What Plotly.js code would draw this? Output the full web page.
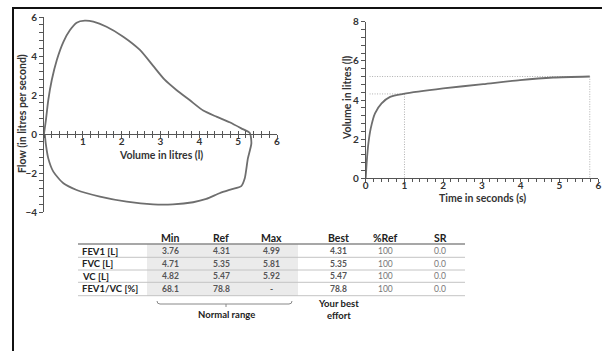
<!DOCTYPE html>
<html><head><meta charset="utf-8">
<script src="https://cdn.plot.ly/plotly-3.0.1.min.js"></script>
<style>html,body{margin:0;padding:0;background:#fff}#chart{width:602px;height:351px}</style>
</head><body><div id="chart"></div>
<script>
// ---- Data ----
// Flow-volume loop (volume in litres, flow in litres per second)
const loopVolume = [0, 0.02, 0.05, 0.11, 0.2, 0.33, 0.5, 0.67, 0.84, 1.05, 1.27, 1.61, 2.04, 2.47, 2.8, 3.1, 3.41, 3.75, 4.1, 4.44, 4.78, 5.08, 5.3,
  5.34, 5.25, 5.17, 5.08, 4.82, 4.52, 4.18, 3.84, 3.32, 2.81, 2.13, 1.44, 0.84, 0.5, 0.24, 0.11, 0.05, 0.02];
const loopFlow = [0, 0.3, 0.72, 1.74, 2.77, 3.8, 4.73, 5.33, 5.71, 5.81, 5.76, 5.5, 4.99, 4.31, 3.52, 2.8, 2.26, 1.74, 1.2, 0.89, 0.6, 0.29, 0.05,
  -0.48, -1.25, -2.27, -2.67, -2.84, -3.04, -3.33, -3.5, -3.61, -3.61, -3.47, -3.21, -2.87, -2.53, -1.93, -1.25, -0.56, 0];
// Volume-time curve
const timeSec = [0, 0.03, 0.07, 0.13, 0.24, 0.41, 0.63, 0.97, 2.0, 3.03, 3.98, 4.84, 5.78];
const volumeL = [0, 0.93, 1.79, 2.55, 3.32, 3.83, 4.16, 4.31, 4.59, 4.81, 5.02, 5.15, 5.2];
// Markers: FEV1 at 1 s, FVC at end of test
const fev1Time = 1, fev1Value = 4.31;
const fvcTime = 5.78, fvcValue = 5.2;
// Tick values
const loopXTicks = [1, 2, 3, 4, 5, 6];
const loopYTicks = [-4, -2, 0, 2, 4, 6];
const timeXTicks = [0, 1, 2, 3, 4, 5, 6];
const timeYTicks = [0, 2, 4, 6, 8];
// Table
const rowLabels = ['FEV1 [L]', 'FVC [L]', 'VC [L]', 'FEV1/VC [%]'];
const colHeaders = ['Min', 'Ref', 'Max', 'Best', '%Ref', 'SR'];
const minVals = ['3.76', '4.71', '4.82', '68.1'];
const refVals = ['4.31', '5.35', '5.47', '78.8'];
const maxVals = ['4.99', '5.81', '5.92', '-'];
const bestVals = ['4.31', '5.35', '5.47', '78.8'];
const pctRefVals = ['100', '100', '100', '100'];
const srVals = ['0.0', '0.0', '0.0', '0.0'];
const normalRangeLabel = 'Normal range';
const bestEffortLabel = 'Your best<br>effort';

// ---- Layout helpers ----
const W = 602, H = 351;
const PX = x => x / W;
const PY = y => 1 - y / H;
const FONT = 'Lato, Open Sans, sans-serif';
const axisCol = '#555';
const curveCol = '#6e6e6e';

const traces = [
  {x: loopVolume, y: loopFlow, xaxis: 'x', yaxis: 'y', mode: 'lines',
   line: {color: curveCol, width: 1.8, shape: 'spline', smoothing: 0.6}},
  {x: [], y: [], xaxis: 'x3', yaxis: 'y', mode: 'lines'},
  {x: [], y: [], xaxis: 'x5', yaxis: 'y', mode: 'lines'},
  {x: [], y: [], xaxis: 'x6', yaxis: 'y2', mode: 'lines'},
  {x: [0.1, fev1Time, fev1Time], y: [fev1Value, fev1Value, 0], xaxis: 'x2', yaxis: 'y2', mode: 'lines',
   line: {color: '#b0b0b0', width: 1, dash: '1px,1.5px'}},
  {x: [0.1, fvcTime, fvcTime], y: [fvcValue, fvcValue, 0], xaxis: 'x2', yaxis: 'y2', mode: 'lines',
   line: {color: '#b0b0b0', width: 1, dash: '1px,1.5px'}},
  {x: timeSec, y: volumeL, xaxis: 'x2', yaxis: 'y2', mode: 'lines',
   line: {color: curveCol, width: 1.8, shape: 'spline', smoothing: 0.6}}
];

const tickFont = {family: FONT, size: 10, color: '#333', weight: 700};
const titleFont = {family: FONT, size: 10.5, color: '#333', weight: 700};
const minorIn = {tickmode: 'linear', tick0: 0, dtick: 0.2, ticks: 'inside', ticklen: 3, tickcolor: axisCol, tickwidth: 1};
const minorOut = Object.assign({}, minorIn, {ticks: 'outside'});
const bare = {showgrid: false, zeroline: false, showline: false};

const layout = {
  width: W, height: H, margin: {l: 0, r: 0, t: 0, b: 0},
  paper_bgcolor: '#fff', plot_bgcolor: 'rgba(0,0,0,0)', showlegend: false,
  // left chart: axis line with inside ticks, overlay adds outside ticks, another overlay carries the labels
  xaxis: {domain: [PX(44), PX(277)], range: [0, 6], anchor: 'free', position: PY(134),
    showgrid: false, zeroline: false, showline: true, linecolor: axisCol, linewidth: 1, showticklabels: false,
    tickmode: 'array', tickvals: loopXTicks, ticks: 'inside', ticklen: 3, tickcolor: axisCol, minor: minorIn},
  xaxis3: Object.assign({overlaying: 'x', range: [0, 6], anchor: 'free', position: PY(134), showticklabels: false,
    tickmode: 'array', tickvals: loopXTicks, ticks: 'outside', ticklen: 3, tickcolor: axisCol, minor: minorOut}, bare),
  xaxis5: Object.assign({overlaying: 'x', range: [0, 6], anchor: 'free', position: PY(133.5),
    tickmode: 'array', tickvals: loopXTicks, ticks: '', tickfont: tickFont}, bare),
  yaxis: {domain: [PY(212), PY(17)], range: [-4, 6], anchor: 'x',
    showgrid: false, zeroline: false, showline: true, linecolor: axisCol, linewidth: 1,
    tickmode: 'array', tickvals: loopYTicks, ticks: 'outside', ticklen: 4, tickcolor: axisCol,
    minor: {tickmode: 'linear', tick0: 0, dtick: 0.4, ticks: 'outside', ticklen: 4, tickcolor: axisCol},
    tickfont: tickFont},
  // right chart
  xaxis2: {domain: [PX(365.7), PX(598.3)], range: [0, 6], anchor: 'y2',
    showgrid: false, zeroline: false, showline: true, linecolor: axisCol, linewidth: 1, showticklabels: false,
    tickmode: 'array', tickvals: timeXTicks, ticks: 'outside', ticklen: 3, tickcolor: axisCol, minor: minorOut},
  xaxis6: Object.assign({overlaying: 'x2', range: [0, 6], anchor: 'free', position: PY(178.3),
    tickmode: 'array', tickvals: timeXTicks, ticks: '', tickfont: tickFont}, bare),
  yaxis2: {domain: [PY(178.3), PY(21.7)], range: [0, 8], anchor: 'x2',
    showgrid: false, zeroline: false, showline: true, linecolor: axisCol, linewidth: 1,
    tickmode: 'array', tickvals: timeYTicks, ticks: 'outside', ticklen: 4, tickcolor: axisCol,
    minor: {tickmode: 'linear', tick0: 0, dtick: 0.4, ticks: 'outside', ticklen: 4, tickcolor: axisCol},
    tickfont: tickFont},
  shapes: [], annotations: []
};

// Frame
layout.shapes.push({type: 'line', xref: 'paper', yref: 'paper', x0: PX(12), x1: 1, y0: PY(8), y1: PY(8), line: {color: '#111', width: 2}});
layout.shapes.push({type: 'line', xref: 'paper', yref: 'paper', x0: PX(13), x1: PX(13), y0: PY(8), y1: 0, line: {color: '#111', width: 2}});

function ann(text, x, y, opts) {
  layout.annotations.push(Object.assign({text, xref: 'paper', yref: 'paper', x: PX(x), y: PY(y), showarrow: false,
    xanchor: 'center', yanchor: 'middle', font: {family: FONT, size: 8.5, color: '#555', weight: 700}}, opts || {}));
}

// Axis titles
ann('Volume in litres (l)', 161, 155, {font: titleFont});
ann('Flow (in litres per second)', 22, 114, {font: titleFont, textangle: -90});
ann('Time in seconds (s)', 482, 198, {font: titleFont});
ann('Volume in litres (l)', 347, 98, {font: titleFont, textangle: -90});

// Table geometry
const colX = [170, 221, 271.7, 338, 385.7, 440];
const headerY = 238;
const rowY = [251, 263.5, 276, 288.5];
const lineY = [257.3, 270, 282.3, 295.7];
const tableL = 78, tableR = 465;

layout.shapes.push({type: 'rect', xref: 'paper', yref: 'paper', x0: PX(147), x1: PX(298), y0: PY(296), y1: PY(244),
  fillcolor: '#ebebeb', line: {width: 0}, layer: 'below'});
layout.shapes.push({type: 'line', xref: 'paper', yref: 'paper', x0: PX(tableL), x1: PX(tableR), y0: PY(244), y1: PY(244), line: {color: '#8a8a8a', width: 1.5}});
lineY.forEach(y => layout.shapes.push({type: 'line', xref: 'paper', yref: 'paper', x0: PX(tableL), x1: PX(tableR), y0: PY(y), y1: PY(y), line: {color: '#c4c4c4', width: 1}}));

// bracket
const bl = 157, br = 292, bc = 226;
layout.shapes.push({type: 'path', xref: 'paper', yref: 'paper',
  path: `M ${PX(bl)} ${PY(301)} Q ${PX(bl)} ${PY(304)} ${PX(bl + 3)} ${PY(304)} L ${PX(br - 3)} ${PY(304)} Q ${PX(br)} ${PY(304)} ${PX(br)} ${PY(301)} M ${PX(bc)} ${PY(304)} L ${PX(bc)} ${PY(307)}`,
  line: {color: '#888', width: 1}});

colHeaders.forEach((h, i) => ann(h, colX[i], headerY, {font: {family: FONT, size: 10.5, color: '#222', weight: 700}}));
rowLabels.forEach((r, i) => ann(r, 80, rowY[i], {xanchor: 'left', font: {family: FONT, size: 9.5, color: '#222', weight: 700}}));
const cols = [minVals, refVals, maxVals, bestVals, pctRefVals, srVals];
cols.forEach((vals, c) => vals.forEach((v, r) => ann(v, colX[c], rowY[r],
  {font: {family: FONT, size: 8.5, color: c >= 4 ? '#777' : '#555', weight: c >= 4 ? 400 : 700}})));
ann(normalRangeLabel, bc, 314, {font: {family: FONT, size: 9.5, color: '#222', weight: 700}});
ann(bestEffortLabel, 338, 309, {font: {family: FONT, size: 9.5, color: '#222', weight: 700}});

Plotly.newPlot('chart', traces, layout, {displayModeBar: false, staticPlot: true});
</script></body></html>
